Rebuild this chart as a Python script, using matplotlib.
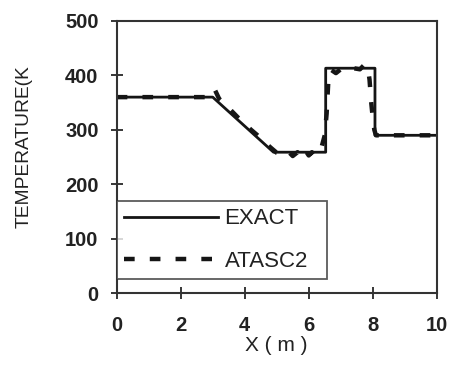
import matplotlib
matplotlib.use('Agg')
import matplotlib.pyplot as plt

plt.rcParams['font.family'] = ['Liberation Sans', 'DejaVu Sans']

# exact solution (piecewise)
x_exact = [0.0, 3.0, 4.9, 6.53, 6.53, 8.07, 8.07, 10.0]
t_exact = [360, 360, 259, 259, 413, 413, 290, 290]

# ATASC2 numerical result
x_atasc = [0.0, 3.0, 3.08, 3.2, 3.4, 3.6, 3.8, 4.0, 4.2, 4.4, 4.6, 4.8, 5.0,
           5.2, 5.35, 5.5, 5.65, 5.8, 5.9, 6.0, 6.1, 6.2, 6.3, 6.4, 6.5,
           6.56, 6.62, 6.7, 6.85, 7.0, 7.2, 7.4, 7.6, 7.75, 7.85, 7.9, 7.95,
           8.0, 8.05, 8.1, 10.0]
t_atasc = [360, 360, 372, 357, 346, 334, 322, 311, 300, 290, 279, 268, 258,
           255, 261, 252, 259, 251, 262, 253, 259, 252, 261, 268, 290,
           330, 398, 410, 404, 411, 408, 413, 411, 420, 413, 392, 352,
           322, 300, 290, 290]

labels = ['EXACT', 'ATASC2']
ink = '#151515'

fig = plt.figure(figsize=(4.54, 3.71), dpi=100)
ax = fig.add_axes([0.257, 0.209, 0.705, 0.735])

ax.plot(x_exact, t_exact, color=ink, lw=2.0, label=labels[0])
ax.plot(x_atasc, t_atasc, color=ink, lw=3.2, dashes=(2.4, 3.4), label=labels[1])

ax.set_xlim(0, 10)
ax.set_ylim(0, 500)
ax.set_xticks(range(0, 11, 2))
ax.set_yticks(range(0, 501, 100))
ax.tick_params(direction='inout', length=8, width=1.2, color=ink,
               labelsize=14.5)
ax.tick_params(axis='y', pad=9)
ax.tick_params(axis='x', pad=12)
for lab in ax.get_xticklabels() + ax.get_yticklabels():
    lab.set_fontweight('bold')
    lab.set_color('#222222')
for s in ax.spines.values():
    s.set_linewidth(1.5)
    s.set_color('#333333')

ax.set_xlabel('X ( m )', fontsize=15, labelpad=1, color='#222222')
ax.set_ylabel('TEMPERATURE(K', fontsize=13.8, color='#222222')
ax.yaxis.set_label_coords(-0.262, 0.54)

leg = ax.legend(loc='lower left', bbox_to_anchor=(0.0, 0.052, 0.657, 0.294),
                mode='expand', borderaxespad=0, fontsize=16, handlelength=4.2,
                handletextpad=0.3, labelspacing=0.95, fancybox=False,
                frameon=True, borderpad=0.35)
leg.get_frame().set_edgecolor('#333333')
leg.get_frame().set_linewidth(1.3)
for t in leg.get_texts():
    t.set_color('#222222')

fig.savefig('out.png', dpi=100)
